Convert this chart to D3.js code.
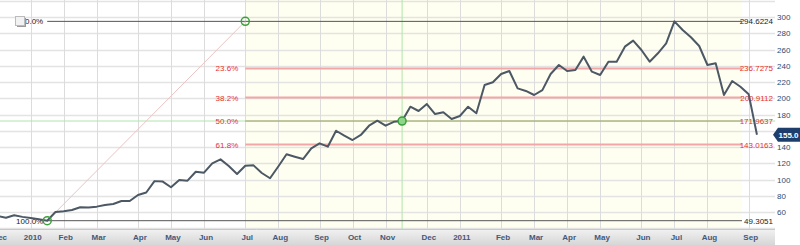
<!DOCTYPE html>
<html>

<head>
  <meta charset="utf-8">
  <style>
    body { margin: 0; background: #fff; }
    text { font-family: "Liberation Sans", Arial, sans-serif; }
  </style>
</head>

<body>
  <script src="https://d3js.org/d3.v7.min.js"></script>
  <script>
    // weekly closes, first value is the week of Dec 7 2009 (index -4)
    var firstIndex = -4;
    var closes = [55, 53, 56, 54, 52.5, 51, 49.3051, 60, 61, 62.5, 65.8, 65.4, 66.6, 68.6, 69.8,
      73.5, 73.5, 80.9, 84, 98, 97.4, 90.4, 99.4, 98.6, 109.6, 108.4, 119.9, 124.8, 116.6, 106.8,
      117, 117.4, 108, 101.5, 116, 131, 128, 125.2, 138.4, 144.5, 140.4, 160, 154, 148.6, 154.8,
      166.2, 172.4, 166.2, 171, 172, 189.6, 184.3, 192.9, 180.6, 182.7, 174.5, 178.2, 189.6, 181.5,
      216.3, 219.6, 229.8, 233.5, 212.2, 209, 204, 210, 229.8, 240.9, 233.5, 234.8, 251.2, 232.7,
      228.6, 245, 245, 263.5, 270.9, 259.4, 245, 255.3, 267.6, 294.6224, 284, 275, 264.3, 240.9,
      243, 204, 221.2, 214.2, 204.8, 155];

    // month labels and how many weekly bars each month holds
    var monthLabels = ["Dec", "2010", "Feb", "Mar", "Apr", "May", "Jun", "Jul", "Aug", "Sep", "Oct", "Nov",
      "Dec", "2011", "Feb", "Mar", "Apr", "May", "Jun", "Jul", "Aug", "Sep"];
    var monthWeeks = [4, 4, 4, 5, 4, 4, 5, 4, 5, 4, 4, 5, 4, 5, 4, 4, 4, 5, 4, 4, 5, 2];

    var yTicks = [60, 80, 100, 120, 140, 160, 180, 200, 220, 240, 260, 280, 300];

    // fibonacci retracement tool
    var fibLevels = [0, 0.236, 0.382, 0.5, 0.618, 1];
    var fibLowIndex = 2, fibHighAnchor = 26;
    var crossIndex = 45;

    var width = 800, height = 245;
    var plotRight = 775, plotBottom = 229, fibRight = 742;

    var svg = d3.select("body").append("svg")
      .attr("width", width)
      .attr("height", height);

    var x = d3.scaleLinear().domain([0, 87]).range([30.7, 748.7]);
    var y = d3.scaleLinear().domain([60, 300]).range([212, 17]);

    var data = closes.map(function(v, i) {
      return { i: i + firstIndex, v: v };
    });

    var hi = d3.max(closes), lo = d3.min(closes);
    var fib = fibLevels.map(function(r) {
      return { r: r, v: hi - r * (hi - lo) };
    });
    var f4 = d3.format(".4f");

    svg.append("defs").append("clipPath").attr("id", "clip")
      .append("rect").attr("width", plotRight).attr("height", plotBottom);

    // cream area of the fib tool
    svg.append("rect")
      .attr("x", x(fibHighAnchor)).attr("y", 0)
      .attr("width", fibRight - x(fibHighAnchor)).attr("height", plotBottom)
      .attr("fill", "#fffff1");

    // horizontal grid
    svg.append("g").selectAll("line")
      .data(d3.range(40, 321, 20))
      .enter().append("line")
      .attr("x1", 0).attr("x2", plotRight)
      .attr("y1", function(d) { return Math.round(y(d)) + 0.5; })
      .attr("y2", function(d) { return Math.round(y(d)) + 0.5; })
      .attr("stroke", "#e3e3e3").attr("stroke-width", 1.5);

    // month starts
    var months = [];
    var start = firstIndex;
    monthLabels.forEach(function(m, k) {
      months.push({ label: m, i: start });
      start += monthWeeks[k];
    });

    svg.append("g").selectAll("line")
      .data(months)
      .enter().append("line")
      .attr("x1", function(d) { return Math.round(x(d.i)) + 0.5; })
      .attr("x2", function(d) { return Math.round(x(d.i)) + 0.5; })
      .attr("y1", 0).attr("y2", plotBottom)
      .attr("stroke", "#dcdcdc");

    // crosshair
    svg.append("line")
      .attr("x1", x(crossIndex)).attr("x2", x(crossIndex))
      .attr("y1", 0).attr("y2", plotBottom)
      .attr("stroke", "#b0e4aa");
    svg.append("line")
      .attr("x1", 0).attr("x2", plotRight)
      .attr("y1", y(fib[3].v)).attr("y2", y(fib[3].v))
      .attr("stroke", "#b0e4aa");

    // fib lines
    function lineColor(r) {
      if (r === 0 || r === 1) return "#555";
      if (r === 0.5) return "#a89a6a";
      return "#f2a6a6";
    }
    function textColor(r) {
      return (r === 0 || r === 1) ? "#222" : "#e8302c";
    }
    svg.append("g").selectAll("line")
      .data(fib)
      .enter().append("line")
      .attr("x1", function(d) { return (d.r === 0 || d.r === 1) ? x(fibLowIndex) : x(fibHighAnchor); })
      .attr("x2", fibRight)
      .attr("y1", function(d) { return y(d.v); })
      .attr("y2", function(d) { return y(d.v); })
      .attr("stroke", function(d) { return lineColor(d.r); })
      .attr("stroke-width", function(d) { return (d.r === 0 || d.r === 1 || d.r === 0.5) ? 1 : 2; });

    // left percent labels
    svg.append("g").selectAll("text")
      .data(fib)
      .enter().append("text")
      .attr("x", function(d) { return (d.r === 0 || d.r === 1) ? x(fibLowIndex) - 4 : x(fibHighAnchor) - 7; })
      .attr("y", function(d) { return y(d.v) + 3; })
      .attr("text-anchor", "end")
      .attr("font-size", 8)
      .attr("fill", function(d) { return textColor(d.r); })
      .text(function(d) { return (d.r * 100).toFixed(1) + "%"; });

    // right value labels
    svg.append("g").selectAll("text")
      .data(fib)
      .enter().append("text")
      .attr("x", 773)
      .attr("y", function(d) { return y(d.v) + 3; })
      .attr("text-anchor", "end")
      .attr("font-size", 8)
      .attr("fill", function(d) { return textColor(d.r); })
      .text(function(d) { return f4(d.v - 1e-9); });

    // trend line between the anchors
    svg.append("line")
      .attr("x1", x(fibLowIndex)).attr("y1", y(lo))
      .attr("x2", x(fibHighAnchor)).attr("y2", y(hi))
      .attr("stroke", "#ecc4c4");

    // price
    var line = d3.line()
      .x(function(d) { return x(d.i); })
      .y(function(d) { return y(d.v); });

    svg.append("path")
      .datum(data)
      .attr("clip-path", "url(#clip)")
      .attr("d", line)
      .attr("fill", "none")
      .attr("stroke", "#4c5864")
      .attr("stroke-width", 2)
      .attr("stroke-linejoin", "round");

    // anchor handles
    var handles = [
      { i: fibLowIndex, v: lo, fill: "none" },
      { i: fibHighAnchor, v: hi, fill: "none" },
      { i: crossIndex, v: fib[3].v, fill: "#8fd58a" }
    ];
    svg.append("g").selectAll("circle")
      .data(handles)
      .enter().append("circle")
      .attr("cx", function(d) { return x(d.i); })
      .attr("cy", function(d) { return y(d.v); })
      .attr("r", 4)
      .attr("fill", function(d) { return d.fill; })
      .attr("stroke", "#3aa03a")
      .attr("stroke-width", 1.5);

    // little toggle box
    svg.append("rect").attr("x", 17).attr("y", 18).attr("width", 9).attr("height", 9).attr("fill", "#999");
    svg.append("rect").attr("x", 15.5).attr("y", 16.5).attr("width", 9).attr("height", 9)
      .attr("fill", "#f2f2f2").attr("stroke", "#bbb");

    // y axis labels
    svg.append("g").selectAll("text")
      .data(yTicks)
      .enter().append("text")
      .attr("x", 777)
      .attr("y", function(d) { return y(d) + 3; })
      .attr("font-size", 8)
      .attr("fill", "#2d4b73")
      .text(function(d) { return d; });

    // last price marker
    var last = closes[closes.length - 1];
    var ly = y(last);
    svg.append("path")
      .attr("d", "M773," + ly + "L778," + (ly - 7) + "H800V" + (ly + 7) + "H778Z")
      .attr("fill", "#1d3e6c");
    svg.append("text")
      .attr("x", 778.5).attr("y", ly + 3)
      .attr("font-size", 8).attr("font-weight", "bold")
      .attr("fill", "#fff")
      .text(last.toFixed(1));

    // x axis band
    var grad = svg.append("defs").append("linearGradient")
      .attr("id", "band").attr("x1", 0).attr("x2", 0).attr("y1", 0).attr("y2", 1);
    grad.append("stop").attr("offset", 0).attr("stop-color", "#f2f2f2");
    grad.append("stop").attr("offset", 1).attr("stop-color", "#d6d6d6");
    svg.append("rect")
      .attr("x", 0).attr("y", plotBottom)
      .attr("width", plotRight).attr("height", height - plotBottom)
      .attr("fill", "url(#band)");
    svg.append("line")
      .attr("x1", 0).attr("x2", plotRight)
      .attr("y1", plotBottom + 0.5).attr("y2", plotBottom + 0.5)
      .attr("stroke", "#c8c8c8");

    svg.append("g").selectAll("text")
      .data(months)
      .enter().append("text")
      .attr("x", function(d) { return x(d.i) + 2; })
      .attr("y", 240)
      .attr("text-anchor", "middle")
      .attr("font-size", 8)
      .attr("font-weight", "bold")
      .attr("fill", "#44587a")
      .text(function(d) { return d.label; });
  </script>
</body>

</html>
